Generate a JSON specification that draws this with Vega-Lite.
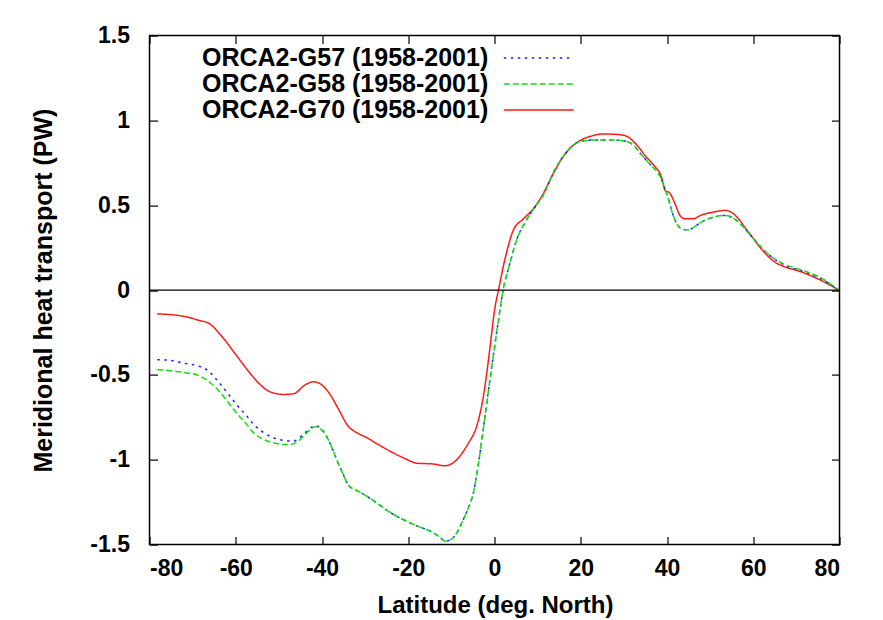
{
  "$schema": "https://vega.github.io/schema/vega-lite/v6.json",
  "width": 690,
  "height": 509,
  "autosize": {"type": "none"},
  "padding": {"left": 149.5, "top": 35.6, "right": 43.5, "bottom": 75.4},
  "background": "white",
  "datasets": {
    "curves": [
      {"run": "ORCA2-G70 (1958-2001)", "lat": -78.2, "pw": -0.14},
      {"run": "ORCA2-G70 (1958-2001)", "lat": -75, "pw": -0.145},
      {"run": "ORCA2-G70 (1958-2001)", "lat": -72, "pw": -0.155},
      {"run": "ORCA2-G70 (1958-2001)", "lat": -69, "pw": -0.175},
      {"run": "ORCA2-G70 (1958-2001)", "lat": -66, "pw": -0.2},
      {"run": "ORCA2-G70 (1958-2001)", "lat": -63, "pw": -0.28},
      {"run": "ORCA2-G70 (1958-2001)", "lat": -60, "pw": -0.38},
      {"run": "ORCA2-G70 (1958-2001)", "lat": -57, "pw": -0.48},
      {"run": "ORCA2-G70 (1958-2001)", "lat": -55, "pw": -0.54},
      {"run": "ORCA2-G70 (1958-2001)", "lat": -52, "pw": -0.6},
      {"run": "ORCA2-G70 (1958-2001)", "lat": -49, "pw": -0.615},
      {"run": "ORCA2-G70 (1958-2001)", "lat": -46.5, "pw": -0.61},
      {"run": "ORCA2-G70 (1958-2001)", "lat": -44, "pw": -0.56},
      {"run": "ORCA2-G70 (1958-2001)", "lat": -42, "pw": -0.54},
      {"run": "ORCA2-G70 (1958-2001)", "lat": -40, "pw": -0.56},
      {"run": "ORCA2-G70 (1958-2001)", "lat": -38, "pw": -0.62},
      {"run": "ORCA2-G70 (1958-2001)", "lat": -36, "pw": -0.71},
      {"run": "ORCA2-G70 (1958-2001)", "lat": -34, "pw": -0.8},
      {"run": "ORCA2-G70 (1958-2001)", "lat": -32, "pw": -0.84},
      {"run": "ORCA2-G70 (1958-2001)", "lat": -29.6, "pw": -0.87},
      {"run": "ORCA2-G70 (1958-2001)", "lat": -27, "pw": -0.91},
      {"run": "ORCA2-G70 (1958-2001)", "lat": -24.2, "pw": -0.95},
      {"run": "ORCA2-G70 (1958-2001)", "lat": -21, "pw": -0.99},
      {"run": "ORCA2-G70 (1958-2001)", "lat": -18, "pw": -1.02},
      {"run": "ORCA2-G70 (1958-2001)", "lat": -14.2, "pw": -1.025},
      {"run": "ORCA2-G70 (1958-2001)", "lat": -11.5, "pw": -1.035},
      {"run": "ORCA2-G70 (1958-2001)", "lat": -9.2, "pw": -1.01},
      {"run": "ORCA2-G70 (1958-2001)", "lat": -7.5, "pw": -0.96},
      {"run": "ORCA2-G70 (1958-2001)", "lat": -6, "pw": -0.9},
      {"run": "ORCA2-G70 (1958-2001)", "lat": -4.1, "pw": -0.8},
      {"run": "ORCA2-G70 (1958-2001)", "lat": -2.6, "pw": -0.63},
      {"run": "ORCA2-G70 (1958-2001)", "lat": -1, "pw": -0.33},
      {"run": "ORCA2-G70 (1958-2001)", "lat": 0, "pw": -0.12},
      {"run": "ORCA2-G70 (1958-2001)", "lat": 1, "pw": 0.01},
      {"run": "ORCA2-G70 (1958-2001)", "lat": 2.4, "pw": 0.18},
      {"run": "ORCA2-G70 (1958-2001)", "lat": 4.4, "pw": 0.355},
      {"run": "ORCA2-G70 (1958-2001)", "lat": 6.7, "pw": 0.42},
      {"run": "ORCA2-G70 (1958-2001)", "lat": 9, "pw": 0.48},
      {"run": "ORCA2-G70 (1958-2001)", "lat": 10.9, "pw": 0.55},
      {"run": "ORCA2-G70 (1958-2001)", "lat": 13.3, "pw": 0.67},
      {"run": "ORCA2-G70 (1958-2001)", "lat": 16, "pw": 0.79},
      {"run": "ORCA2-G70 (1958-2001)", "lat": 19.4, "pw": 0.875},
      {"run": "ORCA2-G70 (1958-2001)", "lat": 22.1, "pw": 0.905},
      {"run": "ORCA2-G70 (1958-2001)", "lat": 25.2, "pw": 0.92},
      {"run": "ORCA2-G70 (1958-2001)", "lat": 28, "pw": 0.918},
      {"run": "ORCA2-G70 (1958-2001)", "lat": 30.3, "pw": 0.91},
      {"run": "ORCA2-G70 (1958-2001)", "lat": 33, "pw": 0.855},
      {"run": "ORCA2-G70 (1958-2001)", "lat": 35, "pw": 0.79},
      {"run": "ORCA2-G70 (1958-2001)", "lat": 36.8, "pw": 0.74},
      {"run": "ORCA2-G70 (1958-2001)", "lat": 38.8, "pw": 0.66},
      {"run": "ORCA2-G70 (1958-2001)", "lat": 39.5, "pw": 0.59},
      {"run": "ORCA2-G70 (1958-2001)", "lat": 40.7, "pw": 0.57},
      {"run": "ORCA2-G70 (1958-2001)", "lat": 42, "pw": 0.5},
      {"run": "ORCA2-G70 (1958-2001)", "lat": 43, "pw": 0.44},
      {"run": "ORCA2-G70 (1958-2001)", "lat": 44.2, "pw": 0.42},
      {"run": "ORCA2-G70 (1958-2001)", "lat": 46.1, "pw": 0.42},
      {"run": "ORCA2-G70 (1958-2001)", "lat": 47.7, "pw": 0.44},
      {"run": "ORCA2-G70 (1958-2001)", "lat": 50.8, "pw": 0.46},
      {"run": "ORCA2-G70 (1958-2001)", "lat": 53.5, "pw": 0.47},
      {"run": "ORCA2-G70 (1958-2001)", "lat": 55.4, "pw": 0.45},
      {"run": "ORCA2-G70 (1958-2001)", "lat": 58.5, "pw": 0.355},
      {"run": "ORCA2-G70 (1958-2001)", "lat": 62.3, "pw": 0.23},
      {"run": "ORCA2-G70 (1958-2001)", "lat": 65, "pw": 0.165},
      {"run": "ORCA2-G70 (1958-2001)", "lat": 67, "pw": 0.14},
      {"run": "ORCA2-G70 (1958-2001)", "lat": 70.8, "pw": 0.11},
      {"run": "ORCA2-G70 (1958-2001)", "lat": 75.5, "pw": 0.06},
      {"run": "ORCA2-G70 (1958-2001)", "lat": 79.8, "pw": 0.0},

      {"run": "ORCA2-G57 (1958-2001)", "lat": -78.2, "pw": -0.41},
      {"run": "ORCA2-G57 (1958-2001)", "lat": -75, "pw": -0.415},
      {"run": "ORCA2-G57 (1958-2001)", "lat": -72.2, "pw": -0.43},
      {"run": "ORCA2-G57 (1958-2001)", "lat": -69, "pw": -0.445},
      {"run": "ORCA2-G57 (1958-2001)", "lat": -66.7, "pw": -0.47},
      {"run": "ORCA2-G57 (1958-2001)", "lat": -63.7, "pw": -0.55},
      {"run": "ORCA2-G57 (1958-2001)", "lat": -61.5, "pw": -0.62},
      {"run": "ORCA2-G57 (1958-2001)", "lat": -59.8, "pw": -0.675},
      {"run": "ORCA2-G57 (1958-2001)", "lat": -57.5, "pw": -0.74},
      {"run": "ORCA2-G57 (1958-2001)", "lat": -55.9, "pw": -0.79},
      {"run": "ORCA2-G57 (1958-2001)", "lat": -53.5, "pw": -0.84},
      {"run": "ORCA2-G57 (1958-2001)", "lat": -51.3, "pw": -0.87},
      {"run": "ORCA2-G57 (1958-2001)", "lat": -49, "pw": -0.885},
      {"run": "ORCA2-G57 (1958-2001)", "lat": -46.7, "pw": -0.89},
      {"run": "ORCA2-G57 (1958-2001)", "lat": -44.3, "pw": -0.85},
      {"run": "ORCA2-G57 (1958-2001)", "lat": -42.5, "pw": -0.81},
      {"run": "ORCA2-G57 (1958-2001)", "lat": -41.5, "pw": -0.8},
      {"run": "ORCA2-G57 (1958-2001)", "lat": -39.7, "pw": -0.83},
      {"run": "ORCA2-G57 (1958-2001)", "lat": -38, "pw": -0.91},
      {"run": "ORCA2-G57 (1958-2001)", "lat": -36.6, "pw": -1.0},
      {"run": "ORCA2-G57 (1958-2001)", "lat": -35, "pw": -1.09},
      {"run": "ORCA2-G57 (1958-2001)", "lat": -33.9, "pw": -1.15},
      {"run": "ORCA2-G57 (1958-2001)", "lat": -32, "pw": -1.18},
      {"run": "ORCA2-G57 (1958-2001)", "lat": -29.6, "pw": -1.215},
      {"run": "ORCA2-G57 (1958-2001)", "lat": -27, "pw": -1.26},
      {"run": "ORCA2-G57 (1958-2001)", "lat": -24.2, "pw": -1.31},
      {"run": "ORCA2-G57 (1958-2001)", "lat": -21, "pw": -1.355},
      {"run": "ORCA2-G57 (1958-2001)", "lat": -18, "pw": -1.39},
      {"run": "ORCA2-G57 (1958-2001)", "lat": -14.2, "pw": -1.43},
      {"run": "ORCA2-G57 (1958-2001)", "lat": -12.5, "pw": -1.46},
      {"run": "ORCA2-G57 (1958-2001)", "lat": -11.5, "pw": -1.48},
      {"run": "ORCA2-G57 (1958-2001)", "lat": -10.5, "pw": -1.475},
      {"run": "ORCA2-G57 (1958-2001)", "lat": -9.6, "pw": -1.46},
      {"run": "ORCA2-G57 (1958-2001)", "lat": -8.5, "pw": -1.42},
      {"run": "ORCA2-G57 (1958-2001)", "lat": -7.2, "pw": -1.35},
      {"run": "ORCA2-G57 (1958-2001)", "lat": -6, "pw": -1.28},
      {"run": "ORCA2-G57 (1958-2001)", "lat": -4.9, "pw": -1.195},
      {"run": "ORCA2-G57 (1958-2001)", "lat": -3.7, "pw": -1.02},
      {"run": "ORCA2-G57 (1958-2001)", "lat": -2.6, "pw": -0.82},
      {"run": "ORCA2-G57 (1958-2001)", "lat": -1.5, "pw": -0.61},
      {"run": "ORCA2-G57 (1958-2001)", "lat": -0.3, "pw": -0.39},
      {"run": "ORCA2-G57 (1958-2001)", "lat": 0.9, "pw": -0.18},
      {"run": "ORCA2-G57 (1958-2001)", "lat": 2, "pw": 0.0},
      {"run": "ORCA2-G57 (1958-2001)", "lat": 3.6, "pw": 0.16},
      {"run": "ORCA2-G57 (1958-2001)", "lat": 5.2, "pw": 0.3},
      {"run": "ORCA2-G57 (1958-2001)", "lat": 7.1, "pw": 0.4},
      {"run": "ORCA2-G57 (1958-2001)", "lat": 9.4, "pw": 0.49},
      {"run": "ORCA2-G57 (1958-2001)", "lat": 11.3, "pw": 0.56},
      {"run": "ORCA2-G57 (1958-2001)", "lat": 14, "pw": 0.71},
      {"run": "ORCA2-G57 (1958-2001)", "lat": 16.3, "pw": 0.8},
      {"run": "ORCA2-G57 (1958-2001)", "lat": 19.8, "pw": 0.875},
      {"run": "ORCA2-G57 (1958-2001)", "lat": 22.9, "pw": 0.885},
      {"run": "ORCA2-G57 (1958-2001)", "lat": 26.5, "pw": 0.885},
      {"run": "ORCA2-G57 (1958-2001)", "lat": 29.9, "pw": 0.88},
      {"run": "ORCA2-G57 (1958-2001)", "lat": 32.2, "pw": 0.855},
      {"run": "ORCA2-G57 (1958-2001)", "lat": 34, "pw": 0.8},
      {"run": "ORCA2-G57 (1958-2001)", "lat": 36.1, "pw": 0.74},
      {"run": "ORCA2-G57 (1958-2001)", "lat": 38.4, "pw": 0.67},
      {"run": "ORCA2-G57 (1958-2001)", "lat": 39.9, "pw": 0.57},
      {"run": "ORCA2-G57 (1958-2001)", "lat": 41.9, "pw": 0.41},
      {"run": "ORCA2-G57 (1958-2001)", "lat": 43.4, "pw": 0.36},
      {"run": "ORCA2-G57 (1958-2001)", "lat": 44.9, "pw": 0.355},
      {"run": "ORCA2-G57 (1958-2001)", "lat": 46.5, "pw": 0.375},
      {"run": "ORCA2-G57 (1958-2001)", "lat": 47.6, "pw": 0.395},
      {"run": "ORCA2-G57 (1958-2001)", "lat": 50.8, "pw": 0.43},
      {"run": "ORCA2-G57 (1958-2001)", "lat": 53.5, "pw": 0.44},
      {"run": "ORCA2-G57 (1958-2001)", "lat": 56.2, "pw": 0.41},
      {"run": "ORCA2-G57 (1958-2001)", "lat": 59.3, "pw": 0.325},
      {"run": "ORCA2-G57 (1958-2001)", "lat": 63.1, "pw": 0.22},
      {"run": "ORCA2-G57 (1958-2001)", "lat": 67, "pw": 0.15},
      {"run": "ORCA2-G57 (1958-2001)", "lat": 71.6, "pw": 0.11},
      {"run": "ORCA2-G57 (1958-2001)", "lat": 75.5, "pw": 0.07},
      {"run": "ORCA2-G57 (1958-2001)", "lat": 79.8, "pw": 0.0},

      {"run": "ORCA2-G58 (1958-2001)", "lat": -78.2, "pw": -0.47},
      {"run": "ORCA2-G58 (1958-2001)", "lat": -75, "pw": -0.475},
      {"run": "ORCA2-G58 (1958-2001)", "lat": -72.2, "pw": -0.485},
      {"run": "ORCA2-G58 (1958-2001)", "lat": -69, "pw": -0.5},
      {"run": "ORCA2-G58 (1958-2001)", "lat": -66.7, "pw": -0.53},
      {"run": "ORCA2-G58 (1958-2001)", "lat": -63.7, "pw": -0.6},
      {"run": "ORCA2-G58 (1958-2001)", "lat": -61.5, "pw": -0.67},
      {"run": "ORCA2-G58 (1958-2001)", "lat": -59.8, "pw": -0.725},
      {"run": "ORCA2-G58 (1958-2001)", "lat": -57.5, "pw": -0.79},
      {"run": "ORCA2-G58 (1958-2001)", "lat": -55.9, "pw": -0.84},
      {"run": "ORCA2-G58 (1958-2001)", "lat": -53.5, "pw": -0.88},
      {"run": "ORCA2-G58 (1958-2001)", "lat": -51.3, "pw": -0.9},
      {"run": "ORCA2-G58 (1958-2001)", "lat": -49, "pw": -0.91},
      {"run": "ORCA2-G58 (1958-2001)", "lat": -47.4, "pw": -0.91},
      {"run": "ORCA2-G58 (1958-2001)", "lat": -45.5, "pw": -0.89},
      {"run": "ORCA2-G58 (1958-2001)", "lat": -43.5, "pw": -0.84},
      {"run": "ORCA2-G58 (1958-2001)", "lat": -41.5, "pw": -0.805},
      {"run": "ORCA2-G58 (1958-2001)", "lat": -39.7, "pw": -0.835},
      {"run": "ORCA2-G58 (1958-2001)", "lat": -38, "pw": -0.91},
      {"run": "ORCA2-G58 (1958-2001)", "lat": -36.6, "pw": -1.0},
      {"run": "ORCA2-G58 (1958-2001)", "lat": -35, "pw": -1.09},
      {"run": "ORCA2-G58 (1958-2001)", "lat": -33.9, "pw": -1.15},
      {"run": "ORCA2-G58 (1958-2001)", "lat": -32, "pw": -1.18},
      {"run": "ORCA2-G58 (1958-2001)", "lat": -29.6, "pw": -1.215},
      {"run": "ORCA2-G58 (1958-2001)", "lat": -27, "pw": -1.26},
      {"run": "ORCA2-G58 (1958-2001)", "lat": -24.2, "pw": -1.31},
      {"run": "ORCA2-G58 (1958-2001)", "lat": -21, "pw": -1.355},
      {"run": "ORCA2-G58 (1958-2001)", "lat": -18, "pw": -1.39},
      {"run": "ORCA2-G58 (1958-2001)", "lat": -14.2, "pw": -1.43},
      {"run": "ORCA2-G58 (1958-2001)", "lat": -12.5, "pw": -1.46},
      {"run": "ORCA2-G58 (1958-2001)", "lat": -11.5, "pw": -1.48},
      {"run": "ORCA2-G58 (1958-2001)", "lat": -10.5, "pw": -1.475},
      {"run": "ORCA2-G58 (1958-2001)", "lat": -9.6, "pw": -1.46},
      {"run": "ORCA2-G58 (1958-2001)", "lat": -8.5, "pw": -1.42},
      {"run": "ORCA2-G58 (1958-2001)", "lat": -7.2, "pw": -1.35},
      {"run": "ORCA2-G58 (1958-2001)", "lat": -6, "pw": -1.28},
      {"run": "ORCA2-G58 (1958-2001)", "lat": -4.9, "pw": -1.195},
      {"run": "ORCA2-G58 (1958-2001)", "lat": -3.7, "pw": -1.02},
      {"run": "ORCA2-G58 (1958-2001)", "lat": -2.6, "pw": -0.82},
      {"run": "ORCA2-G58 (1958-2001)", "lat": -1.5, "pw": -0.61},
      {"run": "ORCA2-G58 (1958-2001)", "lat": -0.3, "pw": -0.39},
      {"run": "ORCA2-G58 (1958-2001)", "lat": 0.9, "pw": -0.18},
      {"run": "ORCA2-G58 (1958-2001)", "lat": 2, "pw": 0.0},
      {"run": "ORCA2-G58 (1958-2001)", "lat": 3.6, "pw": 0.16},
      {"run": "ORCA2-G58 (1958-2001)", "lat": 5.2, "pw": 0.3},
      {"run": "ORCA2-G58 (1958-2001)", "lat": 7.1, "pw": 0.4},
      {"run": "ORCA2-G58 (1958-2001)", "lat": 9.4, "pw": 0.49},
      {"run": "ORCA2-G58 (1958-2001)", "lat": 11.3, "pw": 0.56},
      {"run": "ORCA2-G58 (1958-2001)", "lat": 14, "pw": 0.71},
      {"run": "ORCA2-G58 (1958-2001)", "lat": 16.3, "pw": 0.8},
      {"run": "ORCA2-G58 (1958-2001)", "lat": 19.8, "pw": 0.875},
      {"run": "ORCA2-G58 (1958-2001)", "lat": 22.9, "pw": 0.885},
      {"run": "ORCA2-G58 (1958-2001)", "lat": 26.5, "pw": 0.885},
      {"run": "ORCA2-G58 (1958-2001)", "lat": 29.9, "pw": 0.88},
      {"run": "ORCA2-G58 (1958-2001)", "lat": 32.2, "pw": 0.855},
      {"run": "ORCA2-G58 (1958-2001)", "lat": 34, "pw": 0.8},
      {"run": "ORCA2-G58 (1958-2001)", "lat": 36.1, "pw": 0.74},
      {"run": "ORCA2-G58 (1958-2001)", "lat": 38.4, "pw": 0.67},
      {"run": "ORCA2-G58 (1958-2001)", "lat": 39.9, "pw": 0.57},
      {"run": "ORCA2-G58 (1958-2001)", "lat": 41.9, "pw": 0.41},
      {"run": "ORCA2-G58 (1958-2001)", "lat": 43.4, "pw": 0.36},
      {"run": "ORCA2-G58 (1958-2001)", "lat": 44.9, "pw": 0.355},
      {"run": "ORCA2-G58 (1958-2001)", "lat": 46.5, "pw": 0.375},
      {"run": "ORCA2-G58 (1958-2001)", "lat": 47.6, "pw": 0.395},
      {"run": "ORCA2-G58 (1958-2001)", "lat": 50.8, "pw": 0.43},
      {"run": "ORCA2-G58 (1958-2001)", "lat": 53.5, "pw": 0.44},
      {"run": "ORCA2-G58 (1958-2001)", "lat": 56.2, "pw": 0.41},
      {"run": "ORCA2-G58 (1958-2001)", "lat": 59.3, "pw": 0.325},
      {"run": "ORCA2-G58 (1958-2001)", "lat": 63.1, "pw": 0.22},
      {"run": "ORCA2-G58 (1958-2001)", "lat": 67, "pw": 0.155},
      {"run": "ORCA2-G58 (1958-2001)", "lat": 71.6, "pw": 0.115},
      {"run": "ORCA2-G58 (1958-2001)", "lat": 75.5, "pw": 0.075},
      {"run": "ORCA2-G58 (1958-2001)", "lat": 79.8, "pw": 0.0}
    ],
    "zero": [{"y": 0}]
  },
  "config": {
    "font": "Liberation Sans",
    "view": {"stroke": "#000", "strokeWidth": 1.5},
    "axis": {
      "domain": false,
      "grid": false,
      "tickSize": -8,
      "tickColor": "#000",
      "tickWidth": 1.2,
      "labelFont": "Liberation Sans",
      "labelFontWeight": "bold",
      "labelFontSize": 23,
      "labelColor": "#000",
      "titleFont": "Liberation Sans",
      "titleFontWeight": "bold",
      "titleFontSize": 24,
      "titleColor": "#000"
    },
    "legend": {
      "labelFont": "Liberation Sans",
      "labelFontWeight": "bold",
      "labelFontSize": 25,
      "labelColor": "#000",
      "labelLimit": 500,
      "symbolType": "M-4,0H4",
      "symbolSize": 306.25,
      "symbolStrokeWidth": 1.5,
      "symbolFillColor": "transparent",
      "labelAlign": "right",
      "labelOffset": -63,
      "rowPadding": 0
    }
  },
  "layer": [
    {
      "data": {"name": "curves"},
      "mark": {"type": "line", "strokeWidth": 1.5, "interpolate": "monotone"},
      "encoding": {
        "x": {
          "field": "lat", "type": "quantitative",
          "scale": {"domain": [-80, 80], "nice": false, "zero": false},
          "axis": {
            "orient": "bottom",
            "values": [-80, -60, -40, -20, 0, 20, 40, 60, 80],
            "labelExpr": "'' + datum.value",
            "labelPadding": 21,
            "title": "Latitude (deg. North)",
            "titleX": 345.5,
            "titleY": 68,
            "titleBaseline": "alphabetic",
            "titleAnchor": "middle"
          }
        },
        "y": {
          "field": "pw", "type": "quantitative",
          "scale": {"domain": [-1.5, 1.5], "nice": false, "zero": false},
          "axis": {
            "orient": "left",
            "values": [-1.5, -1, -0.5, 0, 0.5, 1, 1.5],
            "labelExpr": "'' + datum.value",
            "labelPadding": 28,
            "title": "Meridional heat transport (PW)",
            "titleFontSize": 25,
            "titleX": -106,
            "titleY": 254.5,
            "titleBaseline": "middle",
            "titleAnchor": "middle"
          }
        },
        "color": {
          "field": "run", "type": "nominal",
          "scale": {
            "domain": ["ORCA2-G57 (1958-2001)", "ORCA2-G58 (1958-2001)", "ORCA2-G70 (1958-2001)"],
            "range": ["#1f1fff", "#11dd11", "#ff1a1a"]
          },
          "legend": {"title": null, "orient": "none", "legendX": 376.75, "legendY": 10}
        },
        "strokeDash": {
          "field": "run", "type": "nominal",
          "scale": {
            "domain": ["ORCA2-G57 (1958-2001)", "ORCA2-G58 (1958-2001)", "ORCA2-G70 (1958-2001)"],
            "range": [[2.5, 4.5], [6, 3], [1, 0]]
          },
          "legend": {"title": null, "orient": "none", "legendX": 376.75, "legendY": 10}
        }
      }
    },
    {
      "data": {"name": "zero"},
      "mark": {"type": "rule", "color": "#000", "strokeWidth": 1.2},
      "encoding": {
        "y": {
          "field": "y", "type": "quantitative",
          "axis": {"orient": "right", "values": [-1.5, -1, -0.5, 0, 0.5, 1, 1.5], "labels": false, "title": null}
        },
        "x": {"datum": -80, "type": "quantitative",
          "axis": {"orient": "top", "values": [-80, -60, -40, -20, 0, 20, 40, 60, 80], "labels": false, "title": null}
        },
        "x2": {"datum": 80}
      }
    }
  ],
  "resolve": {"axis": {"x": "independent", "y": "independent"}}
}
